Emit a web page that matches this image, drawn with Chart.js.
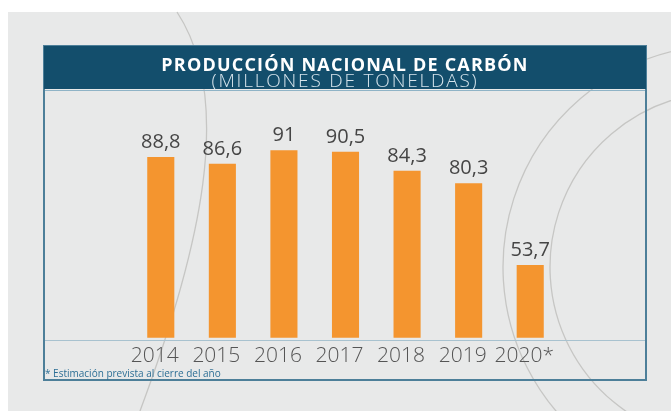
<!DOCTYPE html>
<html>
<head>
<meta charset="utf-8">
<script src="https://cdn.jsdelivr.net/npm/chart.js@4.4.1/dist/chart.umd.min.js"></script>
<style>
  html, body { margin: 0; padding: 0; background: #fff; }
  #wrap { position: relative; width: 671px; height: 411px; overflow: hidden; }
  #chart { position: absolute; left: 0; top: 0; }
  .title {
    position: absolute; left: 44px; width: 602px; text-align: center;
    font-family: "Open Sans", sans-serif; color: #fff; white-space: nowrap;
  }
  #t1 { top: 54px; font-size: 18px; font-weight: 700; letter-spacing: 1.2px; line-height: 20px; }
  #t2 { top: 70px; font-size: 19px; font-weight: 300; color: #d6e4ec; letter-spacing: 1.8px; line-height: 20px; }
  #note {
    position: absolute; left: 45px; top: 366px; font-family: "Open Sans", sans-serif;
    font-size: 10px; color: #2d6f95; white-space: nowrap;
  }
</style>
</head>
<body>
<div id="wrap">
  <canvas id="chart" width="671" height="411"></canvas>
  <div class="title" id="t1">PRODUCCIÓN NACIONAL DE CARBÓN</div>
  <div class="title" id="t2">(MILLONES DE TONELDAS)</div>
  <div id="note">* Estimación prevista al cierre del año</div>
</div>
<script>
// data
const years = ['2014', '2015', '2016', '2017', '2018', '2019', '2020*'];
const production = [88.8, 86.6, 91, 90.5, 84.3, 80.3, 53.7];

const barColor = '#f4952f';

//background, decorative arcs, frame and header band
const framePlugin = {
  id: 'frame',
  beforeDraw(chart) {
    const ctx = chart.ctx;
    ctx.save();
    ctx.fillStyle = '#ffffff';
    ctx.fillRect(0, 0, 671, 411);
    ctx.fillStyle = '#e8e9e9';
    ctx.fillRect(8, 12, 663, 399);

    //faint arcs
    ctx.strokeStyle = '#c6c6c4';
    ctx.lineWidth = 1.3;
    ctx.beginPath();
    ctx.moveTo(177, 12);
    ctx.bezierCurveTo(235, 100, 200, 250, 140, 411);
    ctx.stroke();
    ctx.beginPath();
    ctx.arc(725, 267, 222, Math.PI * 0.6, Math.PI * 1.45);
    ctx.stroke();
    ctx.beginPath();
    ctx.arc(725, 267, 175, Math.PI * 0.6, Math.PI * 1.45);
    ctx.stroke();

    //frame
    ctx.strokeStyle = '#4d7f99';
    ctx.lineWidth = 2;
    ctx.strokeRect(44, 46, 602, 334);
    ctx.fillStyle = '#134e6c';
    ctx.fillRect(44, 46, 602, 43);
    ctx.strokeStyle = '#8fb3c6';
    ctx.lineWidth = 1;
    ctx.beginPath();
    ctx.moveTo(45, 90.5);
    ctx.lineTo(645, 90.5);
    ctx.stroke();

    //axis line
    ctx.strokeStyle = '#a8c2cf';
    ctx.lineWidth = 1.2;
    ctx.beginPath();
    ctx.moveTo(45, 340.5);
    ctx.lineTo(645, 340.5);
    ctx.stroke();
    ctx.restore();
  }
};

//value labels above bars
const valueLabels = {
  id: 'valueLabels',
  afterDatasetsDraw(chart) {
    const ctx = chart.ctx;
    const meta = chart.getDatasetMeta(0);
    ctx.save();
    ctx.font = '400 20px "Open Sans"';
    ctx.fillStyle = '#454545';
    ctx.textAlign = 'center';
    ctx.textBaseline = 'alphabetic';
    meta.data.forEach((bar, i) => {
      const txt = String(production[i]).replace('.', ',');
      ctx.fillText(txt, bar.x, bar.y - 9);
    });
    ctx.restore();
  }
};

new Chart(document.getElementById('chart'), {
  type: 'bar',
  data: {
    labels: years,
    datasets: [{
      data: production,
      backgroundColor: barColor,
      borderWidth: 0,
      barPercentage: 0.44,
      categoryPercentage: 1
    }]
  },
  options: {
    responsive: false,
    animation: false,
    events: [],
    layout: { padding: { left: 130, right: 110, top: 98, bottom: 44 } },
    plugins: { legend: { display: false }, tooltip: { enabled: false }, title: { display: false } },
    scales: {
      x: {
        grid: { display: false },
        border: { display: false },
        ticks: {
          color: '#555555',
          font: { family: 'Open Sans', size: 21, weight: '300' },
          padding: -2,
          maxRotation: 0,
          minRotation: 0,
          autoSkip: false,
          labelOffset: -6
        }
      },
      y: {
        display: false,
        min: 30,
        max: 108
      }
    }
  },
  plugins: [framePlugin, valueLabels]
});
</script>
</body>
</html>
